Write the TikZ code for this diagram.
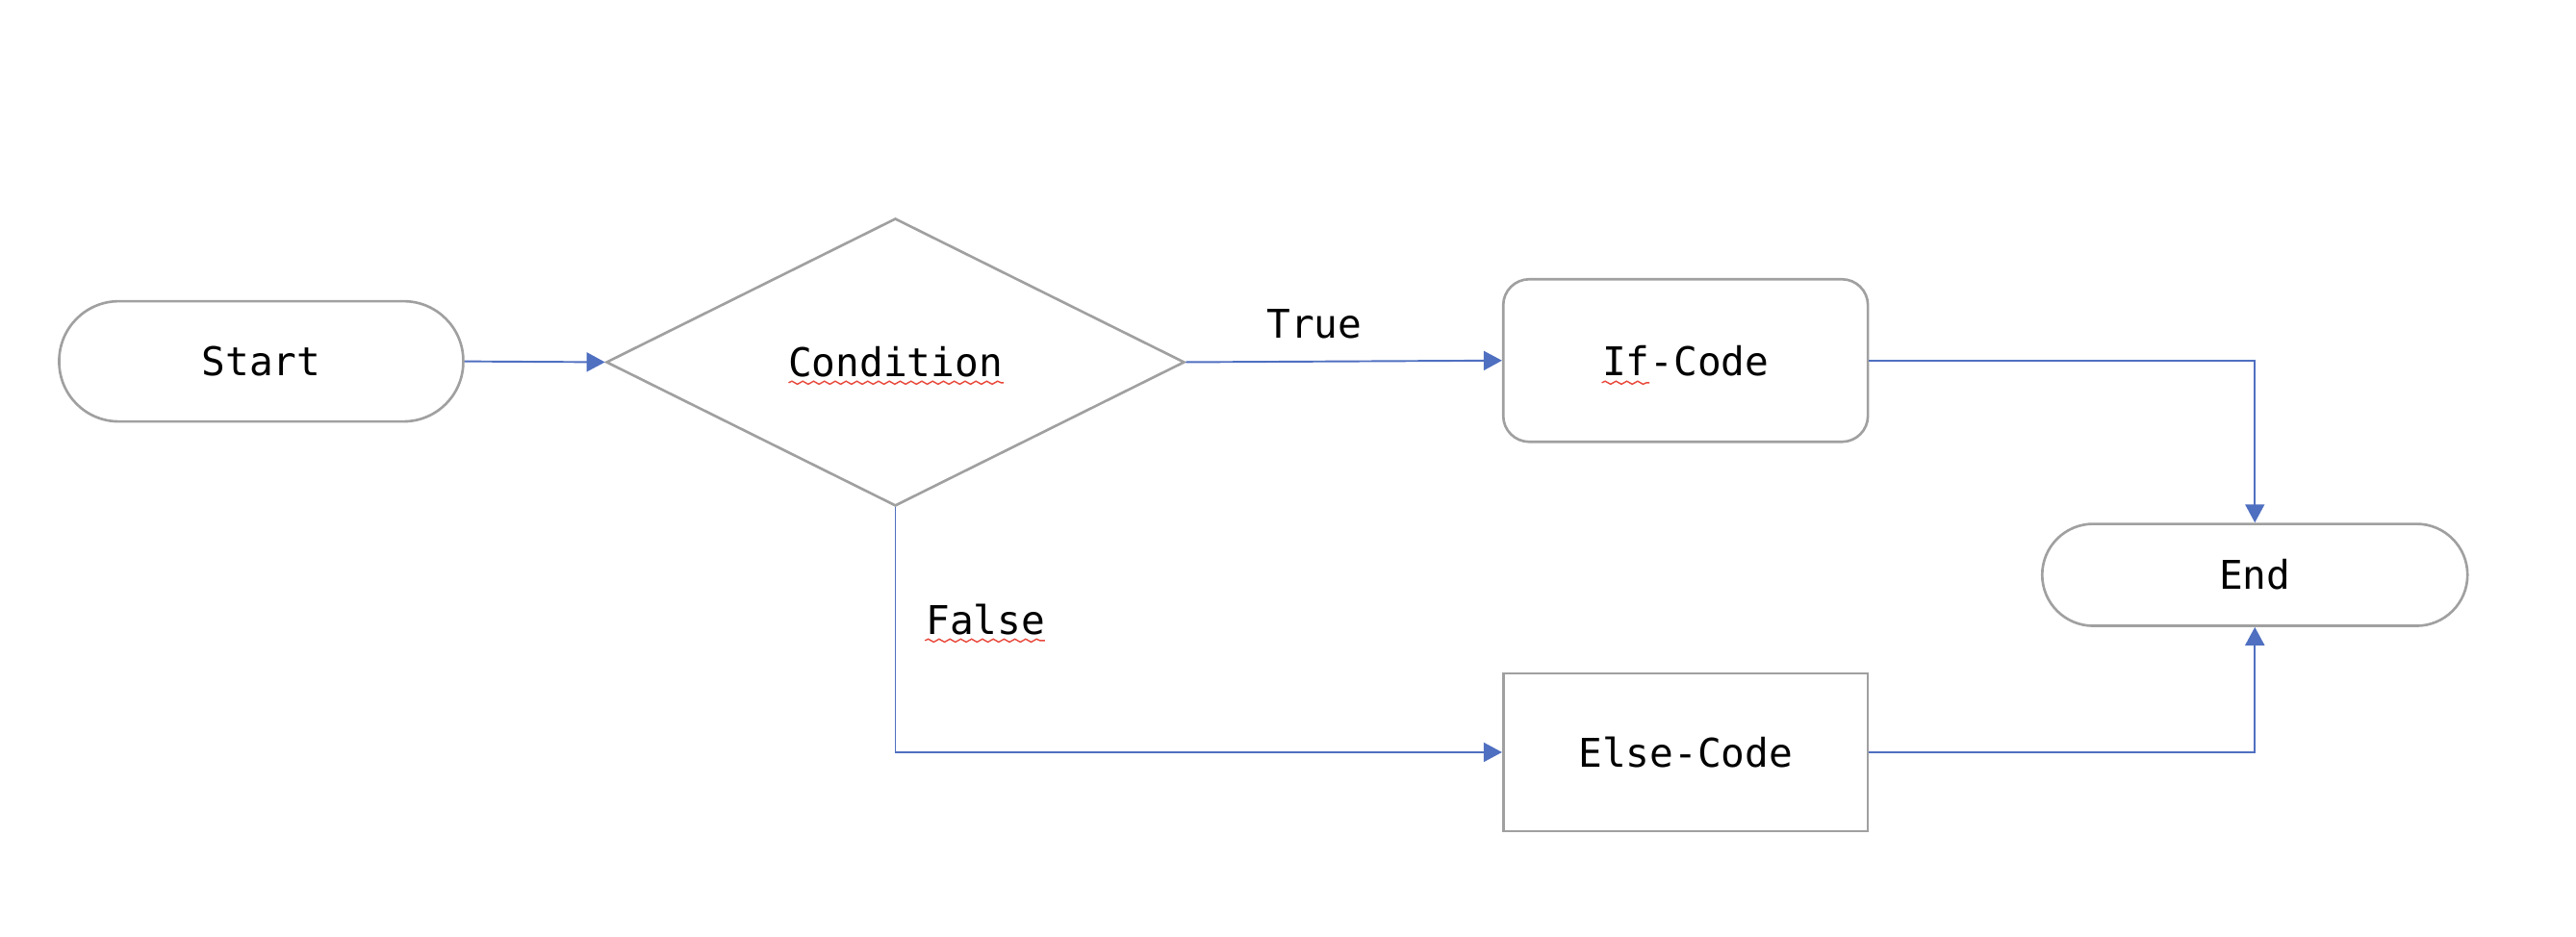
\documentclass[tikz,border=0pt]{standalone}
\usepackage{fontspec}
\setmonofont{DejaVu Sans Mono}
\usetikzlibrary{shapes.geometric,arrows.meta,decorations.pathmorphing}
\definecolor{shapegray}{HTML}{A0A0A0}
\definecolor{connblue}{HTML}{4F6FC0}
\definecolor{spellred}{HTML}{E8473A}
\tikzset{
  every node/.style={font=\fontsize{11.7}{14}\selectfont\ttfamily, text=black},
  shapebase/.style={draw=shapegray, line width=0.75pt, fill=white, inner sep=0pt},
  terminal/.style={shapebase, rectangle, rounded corners=0.62cm},
  decisionbox/.style={shapebase, diamond},
  processbox/.style={shapebase, rectangle},
  conn/.style={draw=connblue, line width=0.55pt, -{Triangle[length=0.19cm,width=0.2cm]}},
  squiggle/.style={draw=spellred, line width=0.4pt, decorate, decoration={snake, amplitude=0.45pt, segment length=3.2pt}}
}
\begin{document}
\begin{tikzpicture}[x=0.017073cm, y=-0.017073cm]
\useasboundingbox (0,0) rectangle (1568,570);
\node[terminal, minimum width=4.20cm, minimum height=1.25cm] (start) at (159,220) {Start};
\node[decisionbox, minimum width=6.01cm, minimum height=2.99cm] (cond) at (545,220.5) {Condition};
\node[terminal, rounded corners=0.27cm, minimum width=3.79cm, minimum height=1.69cm] (ifc) at (1026,219.5) {If-Code};
\node[terminal, rounded corners=0.53cm, minimum width=4.42cm, minimum height=1.06cm] (endn) at (1372.5,350) {End};
\node[processbox, minimum width=3.79cm, minimum height=1.64cm] (elsec) at (1026,458) {Else-Code};
\node (truelbl) at (800,197) {True};
\node (falselbl) at (600,377) {False};
\draw[conn] (start.east) -- (cond.west);
\draw[conn] (cond.east) -- (ifc.west);
\draw[conn] (cond.south) |- (elsec.west);
\draw[conn] (ifc.east) -| (endn.north);
\draw[conn] (elsec.east) -| (endn.south);
\coordinate (c1) at (480,233);
\coordinate (c2) at (611,233);
\coordinate (i1) at (975,233);
\coordinate (i2) at (1004,233);
\coordinate (f1) at (563,390);
\coordinate (f2) at (636,390);
\draw[squiggle] (c1) -- (c2);
\draw[squiggle] (i1) -- (i2);
\draw[squiggle] (f1) -- (f2);
\end{tikzpicture}
\end{document}
